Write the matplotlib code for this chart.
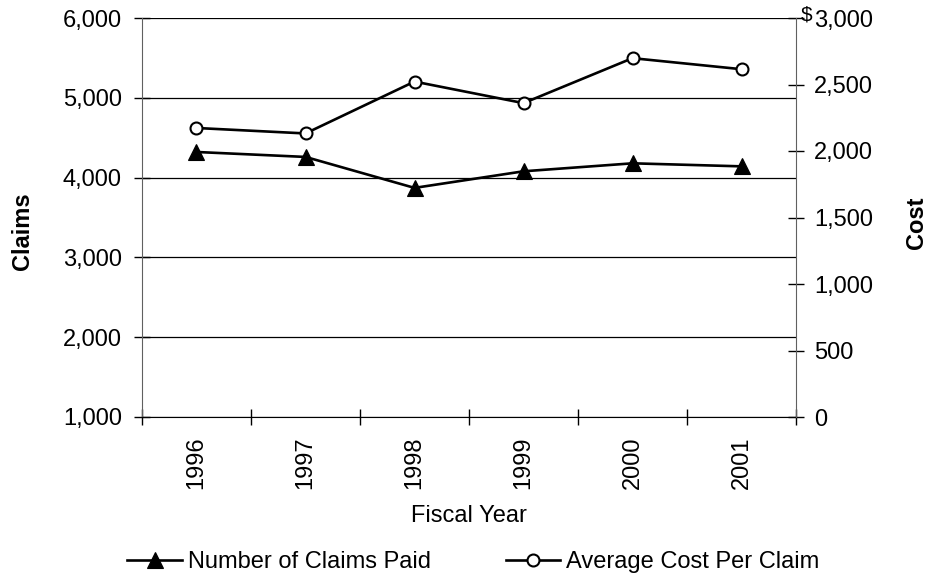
import matplotlib
matplotlib.use("Agg")
import matplotlib.pyplot as plt
from matplotlib.ticker import FuncFormatter, FixedLocator
from matplotlib.lines import Line2D

plt.rcParams['font.family'] = ['Liberation Sans', 'DejaVu Sans']

years = ["1996", "1997", "1998", "1999", "2000", "2001"]
claims_paid = [4321, 4259, 3871, 4079, 4179, 4141]
avg_cost = [2173, 2132, 2522, 2360, 2698, 2615]
claims_ticks = [1000, 2000, 3000, 4000, 5000, 6000]
cost_ticks = [0, 500, 1000, 1500, 2000, 2500, 3000]

W, H = 928, 577
FS = 17
fig = plt.figure(figsize=(W / 100, H / 100), dpi=100)
ax = fig.add_axes([142 / W, 1 - 417 / H, (796 - 142) / W, (417 - 18) / H])
ax2 = ax.twinx()

x = list(range(len(years)))
ink = "black"
spine_c = "#606060"

ax.plot(x, claims_paid, color=ink, lw=1.9, marker="^", ms=11.5, mfc=ink, mec=ink, mew=0.8, zorder=3)
ax2.plot(x, avg_cost, color=ink, lw=1.9, marker="o", ms=8.6, mfc="white", mec=ink, mew=1.5, zorder=3)

ax.set_xlim(-0.5, len(years) - 0.5)
ax.set_ylim(claims_ticks[0], claims_ticks[-1])
ax2.set_ylim(cost_ticks[0], cost_ticks[-1])

ax.set_yticks(claims_ticks)
ax.yaxis.set_major_formatter(FuncFormatter(lambda v, p: f"{int(v):,}"))
ax2.set_yticks(cost_ticks)
ax2.yaxis.set_major_formatter(FuncFormatter(lambda v, p: f"{int(v):,}"))

# category boundaries carry the tick marks; labels sit at category centres
ax.xaxis.set_major_locator(FixedLocator([i - 0.5 for i in range(len(years) + 1)]))
ax.xaxis.set_major_formatter(FuncFormatter(lambda v, p: ""))
ax.xaxis.set_minor_locator(FixedLocator(x))
ax.set_xticklabels(years, minor=True, rotation=90, fontsize=FS)
ax.tick_params(axis="x", which="minor", length=0, pad=14)
ax.tick_params(axis="x", which="major", direction="inout", length=11, width=1, color=ink)

ax.tick_params(axis="y", direction="inout", length=11, width=1, color=ink, labelsize=FS, pad=9)
ax2.tick_params(axis="y", direction="inout", length=11, width=1, color=ink, labelsize=FS, pad=7.5)

ax.grid(axis="y", color=ink, lw=0.9)
ax.set_axisbelow(True)
for s in ["top", "right"]:
    ax.spines[s].set_visible(False)
for s in ["top", "left", "bottom"]:
    ax2.spines[s].set_visible(False)
ax.spines["left"].set_color(spine_c)
ax.spines["bottom"].set_color(ink)
ax2.spines["right"].set_color(spine_c)

# currency sign in front of the top cost tick
fig.text(812 / W, 1 - 15 / H, "$", fontsize=15, ha="right", va="center")

# axis titles
fig.text(23 / W, 1 - 231 / H, "Claims", fontsize=FS, fontweight="bold",
         rotation=90, ha="center", va="center")
fig.text(917 / W, 1 - 223 / H, "Cost", fontsize=FS, fontweight="bold",
         rotation=90, ha="center", va="center")
fig.text(469 / W, 1 - 522 / H, "Fiscal Year", fontsize=FS, ha="center", va="baseline")

handles = [
    Line2D([], [], color=ink, lw=1.9, marker="^", ms=11.5, mfc=ink, mec=ink, mew=0.8),
    Line2D([], [], color=ink, lw=1.9, marker="o", ms=8.6, mfc="white", mec=ink, mew=1.5),
]
fig.legend(handles, ["Number of Claims Paid", "Average Cost Per Claim"],
           loc="center", bbox_to_anchor=(473.5 / W, 1 - 562 / H), ncol=2, frameon=False,
           fontsize=FS, handlelength=2.3, handletextpad=0.25, columnspacing=3.2,
           borderpad=0.0, borderaxespad=0.0)

fig.savefig("out.png", dpi=100)
